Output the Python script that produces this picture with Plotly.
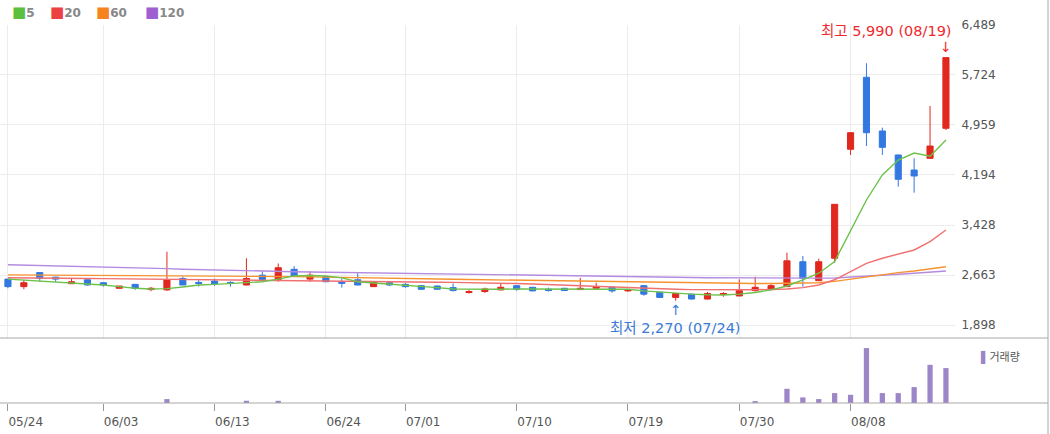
import plotly.graph_objects as go

# Trading days (category axis, holidays skipped)
dates = ["2024-05-24", "2024-05-27", "2024-05-28", "2024-05-29", "2024-05-30", "2024-05-31",
         "2024-06-03", "2024-06-04", "2024-06-05", "2024-06-07", "2024-06-10", "2024-06-11",
         "2024-06-12", "2024-06-13", "2024-06-14", "2024-06-17", "2024-06-18", "2024-06-19",
         "2024-06-20", "2024-06-21", "2024-06-24", "2024-06-25", "2024-06-26", "2024-06-27",
         "2024-06-28", "2024-07-01", "2024-07-02", "2024-07-03", "2024-07-04", "2024-07-05",
         "2024-07-08", "2024-07-09", "2024-07-10", "2024-07-11", "2024-07-12", "2024-07-15",
         "2024-07-16", "2024-07-17", "2024-07-18", "2024-07-19", "2024-07-22", "2024-07-23",
         "2024-07-24", "2024-07-25", "2024-07-26", "2024-07-29", "2024-07-30", "2024-07-31",
         "2024-08-01", "2024-08-02", "2024-08-05", "2024-08-06", "2024-08-07", "2024-08-08",
         "2024-08-09", "2024-08-12", "2024-08-13", "2024-08-14", "2024-08-16", "2024-08-19"]

open_ = [2600, 2485, 2700, 2630, 2530, 2590, 2545, 2460, 2520, 2440, 2435, 2610, 2550, 2570, 2550,
         2510, 2660, 2595, 2750, 2600, 2640, 2560, 2590, 2485, 2545, 2520, 2500, 2495, 2470, 2395,
         2410, 2435, 2500, 2475, 2445, 2460, 2440, 2460, 2475, 2420, 2500, 2400, 2320, 2370, 2295,
         2365, 2342, 2424, 2449, 2485, 2866, 2576, 2920, 4587, 5689, 4867, 4500, 4270, 4449, 4908]
high = [2605, 2590, 2705, 2635, 2620, 2595, 2550, 2495, 2525, 2480, 3020, 2640, 2600, 2610, 2565,
        2920, 2720, 2840, 2800, 2720, 2645, 2610, 2690, 2555, 2550, 2540, 2505, 2500, 2535, 2435,
        2470, 2535, 2505, 2480, 2470, 2465, 2620, 2545, 2480, 2450, 2505, 2405, 2385, 2375, 2405,
        2400, 2597, 2637, 2530, 3005, 2954, 2913, 3745, 4850, 5903, 4918, 4505, 4449, 5250, 5990]
low = [2460, 2445, 2560, 2560, 2530, 2500, 2485, 2455, 2435, 2415, 2420, 2510, 2485, 2495, 2485,
       2505, 2560, 2560, 2640, 2560, 2555, 2470, 2505, 2480, 2495, 2470, 2440, 2440, 2410, 2380,
       2390, 2430, 2420, 2415, 2410, 2420, 2435, 2455, 2393, 2405, 2345, 2315, 2270, 2290, 2290,
       2330, 2340, 2408, 2430, 2480, 2485, 2570, 2852, 4500, 4637, 4500, 4015, 3923, 4440, 4880]
close = [2485, 2545, 2610, 2600, 2560, 2510, 2510, 2495, 2460, 2460, 2590, 2510, 2535, 2525, 2535,
         2610, 2595, 2775, 2640, 2660, 2560, 2535, 2510, 2550, 2510, 2485, 2445, 2445, 2425, 2410,
         2450, 2475, 2445, 2420, 2425, 2425, 2460, 2485, 2420, 2440, 2370, 2320, 2380, 2295, 2380,
         2380, 2424, 2475, 2500, 2880, 2612, 2866, 3745, 4841, 4841, 4617, 4128, 4178, 4637, 5990]

# Moving averages
ma5 = [2600, 2585, 2570, 2560, 2550, 2535, 2510, 2485, 2460, 2450, 2455, 2480, 2510, 2520, 2530,
       2540, 2560, 2600, 2650, 2655, 2650, 2620, 2560, 2540, 2525, 2510, 2490, 2470, 2450, 2445,
       2440, 2445, 2450, 2450, 2450, 2445, 2445, 2450, 2450, 2445, 2420, 2400, 2385, 2370, 2360,
       2357, 2370, 2395, 2435, 2495, 2590, 2690, 2870, 3352, 3811, 4194, 4423, 4530, 4480, 4729]
ma20 = [2620, 2620, 2618, 2615, 2612, 2610, 2608, 2605, 2600, 2598, 2595, 2590, 2588, 2585, 2582,
        2580, 2578, 2575, 2572, 2570, 2568, 2565, 2562, 2560, 2558, 2556, 2554, 2552, 2550, 2548,
        2546, 2540, 2532, 2525, 2516, 2508, 2495, 2485, 2475, 2465, 2455, 2450, 2445, 2440, 2438,
        2436, 2436, 2438, 2442, 2450, 2470, 2510, 2590, 2714, 2842, 2920, 2985, 3046, 3173, 3352]
ma60 = [2665, 2664, 2663, 2662, 2661, 2660, 2659, 2658, 2657, 2656, 2655, 2654, 2653, 2652, 2650,
        2648, 2645, 2642, 2638, 2635, 2632, 2628, 2624, 2620, 2616, 2612, 2608, 2603, 2598, 2594,
        2590, 2586, 2582, 2578, 2574, 2570, 2566, 2562, 2558, 2554, 2550, 2546, 2542, 2539, 2537,
        2535, 2534, 2533, 2533, 2534, 2536, 2545, 2565, 2600, 2637, 2670, 2700, 2725, 2755, 2790]
ma120 = [2820, 2815, 2810, 2805, 2800, 2795, 2790, 2783, 2776, 2768, 2760, 2752, 2745, 2738, 2732,
         2727, 2722, 2718, 2714, 2710, 2706, 2702, 2698, 2694, 2690, 2686, 2682, 2678, 2674, 2670,
         2666, 2662, 2658, 2655, 2652, 2649, 2646, 2643, 2640, 2637, 2634, 2631, 2628, 2625, 2622,
         2620, 2618, 2616, 2615, 2614, 2614, 2615, 2618, 2630, 2645, 2660, 2675, 2690, 2708, 2725]

volume = [12000, 9000, 14000, 8000, 9000, 7000, 8000, 6000, 9000, 6000, 800000, 15000,
          11000, 10000, 7000, 470000, 14000, 460000, 15000, 12000, 9000, 8000, 13000, 7000,
          6000, 7000, 7000, 6000, 8000, 5000, 6000, 7000, 6000, 6000, 5000, 5000,
          15000, 10000, 7000, 6000, 12000, 10000, 11000, 9000, 12000, 8000, 15000, 400000,
          15000, 2860000, 1140000, 800000, 2000000, 1660000, 11000000, 2000000, 2000000,
          3200000, 7660000, 7000000]

tick_dates = ["2024-05-24", "2024-06-03", "2024-06-13", "2024-06-24", "2024-07-01",
              "2024-07-10", "2024-07-19", "2024-07-30", "2024-08-08"]
tick_labels = ["05/24", "06/03", "06/13", "06/24", "07/01", "07/10", "07/19", "07/30", "08/08"]
price_ticks = [1898, 2663, 3428, 4194, 4959, 5724, 6489]

ma_periods = [5, 20, 60, 120]
ma_colors = ["#6cc24a", "#f07070", "#f7932f", "#b48be0"]
ma_legend_colors = ["#5cbf3d", "#ec4142", "#f5841f", "#a05fd0"]

RED = "#e0281f"
BLUE = "#3278e0"
VOL = "#9b86c8"
GRID = "#ececec"
FRAME = "#a8a8a8"
FONT = "DejaVu Sans, Noto Sans CJK KR"

fig = go.Figure()

# moving average lines under the candles
for ma, col in reversed(list(zip([ma5, ma20, ma60, ma120], ma_colors))):
    fig.add_trace(go.Scatter(x=dates, y=ma, mode="lines", line=dict(color=col, width=1.4),
                             showlegend=False, hoverinfo="skip", xaxis="x", yaxis="y"))

fig.add_trace(go.Candlestick(x=dates, open=open_, high=high, low=low, close=close,
                             increasing=dict(line=dict(color=RED, width=1), fillcolor=RED),
                             decreasing=dict(line=dict(color=BLUE, width=1), fillcolor=BLUE),
                             whiskerwidth=0, showlegend=False, xaxis="x", yaxis="y"))

fig.add_trace(go.Bar(x=dates, y=volume, marker=dict(color=VOL, line=dict(width=0)), width=0.33,
                     showlegend=False, xaxis="x2", yaxis="y2"))

# pixel helpers for the layout (plot area is 955 x 378 px)
W, H, T, B = 955, 378, 25, 31
def px_x(x):
    return x / W
def px_y(y):
    return (H + T - y) / H

split = px_y(338)

annotations = []
legend_x = [10, 48, 94, 143]
for p, col, lx in zip(ma_periods, ma_legend_colors, legend_x):
    annotations.append(dict(xref="paper", yref="paper", x=px_x(lx), y=px_y(12), xanchor="left",
                            yanchor="middle", showarrow=False,
                            text=f'<span style="color:{col};font-size:15px">■</span><b>{p}</b>',
                            font=dict(family=FONT, size=12, color="#888888")))
annotations.append(dict(xref="paper", yref="paper", x=px_x(978), y=px_y(357), xanchor="left",
                        yanchor="middle", showarrow=False,
                        text=f'<span style="color:{VOL}">▌</span>거래량',
                        font=dict(family=FONT, size=11, color="#555555")))

# highest / lowest markers
i_hi = high.index(max(high))
i_lo = low.index(min(low))
hi_date, lo_date = dates[i_hi], dates[i_lo]
annotations += [
    dict(x=hi_date, y=max(high), xref="x", yref="y", showarrow=False, xanchor="right",
         yanchor="middle", xshift=8, yshift=27,
         text=f"최고 {max(high):,} ({hi_date[5:7]}/{hi_date[8:]})",
         font=dict(family=FONT, size=14.5, color="#f0282d")),
    dict(x=hi_date, y=max(high), xref="x", yref="y", showarrow=False, yanchor="middle",
         yshift=11, text="↓", font=dict(family=FONT, size=14, color="#f0282d")),
    dict(x=lo_date, y=min(low), xref="x", yref="y", showarrow=False, yanchor="middle",
         yshift=-27, text=f"최저 {min(low):,} ({lo_date[5:7]}/{lo_date[8:]})",
         font=dict(family=FONT, size=14.5, color="#3a7bd5")),
    dict(x=lo_date, y=min(low), xref="x", yref="y", showarrow=False, yanchor="middle",
         yshift=-9, text="↑", font=dict(family=FONT, size=14, color="#3a7bd5")),
]

shapes = [
    dict(type="line", xref="paper", yref="paper", x0=0, x1=px_x(1048), y0=split, y1=split,
         line=dict(color=FRAME, width=1)),
    dict(type="line", xref="paper", yref="paper", x0=0, x1=px_x(1048), y0=0, y1=0,
         line=dict(color=FRAME, width=1)),
    dict(type="line", xref="paper", yref="paper", x0=px_x(1048), x1=px_x(1048),
         y0=px_y(434), y1=px_y(0), line=dict(color=FRAME, width=1)),
]

fig.update_layout(
    width=1050, height=434,
    margin=dict(l=0, r=1050 - W, t=T, b=B),
    paper_bgcolor="white", plot_bgcolor="white",
    boxgap=0.45,
    hovermode="x",
    xaxis=dict(type="category", range=[-0.5, len(dates) - 0.43], domain=[0, 1], anchor="y",
               tickvals=tick_dates, showticklabels=False, ticks="", showgrid=True,
               gridcolor=GRID, zeroline=False, showline=False, rangeslider=dict(visible=False)),
    xaxis2=dict(type="category", matches="x", domain=[0, 1], anchor="y2",
                tickvals=tick_dates, ticktext=tick_labels, ticks="outside", ticklen=7,
                tickcolor="#999999", ticklabelposition="outside right", ticklabelstandoff=8,
                showgrid=False, zeroline=False, showline=False,
                tickfont=dict(family=FONT, size=12, color="#555555")),
    yaxis=dict(domain=[split, 1], range=[1699, 6489], side="right", anchor="x",
               tickvals=price_ticks, ticktext=[f"{v:,}" for v in price_ticks],
               showgrid=True, gridcolor=GRID, zeroline=False, showline=False,
               ticks="outside", ticklen=3, tickcolor="rgba(0,0,0,0)",
               tickfont=dict(family=FONT, size=12, color="#555555")),
    # floor slightly above zero so near-empty sessions draw nothing, like the source
    yaxis2=dict(domain=[0, split], range=[20000, 13020000], anchor="x2", showgrid=False,
                showticklabels=False, zeroline=False, showline=False),
    annotations=annotations,
    shapes=shapes,
)

# the default page has an 8px body margin; drop it so the figure fills the window
fig.write_html("out.html", config={"displayModeBar": False},
               post_script="document.body.style.margin='0';document.body.style.overflow='hidden';")
